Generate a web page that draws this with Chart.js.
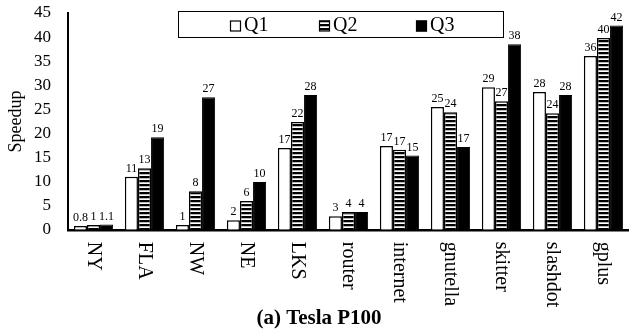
<!DOCTYPE html>
<html>
<head>
<meta charset="utf-8">
<script src="https://cdn.jsdelivr.net/npm/chart.js@4"></script>
<style>
  html, body { margin: 0; padding: 0; background: #fff; }
  #wrap { width: 629px; height: 333px; }
</style>
</head>
<body>
<div id="wrap"><canvas id="myChart"></canvas></div>
<script>
const categories = ['NY', 'FLA', 'NW', 'NE', 'LKS', 'router', 'internet', 'gnutella', 'skitter', 'slashdot', 'gplus'];
const q1Values = [0.8, 11, 1, 2, 17, 2.8, 17.4, 25.5, 29.6, 28.6, 36.1];
const q2Values = [1, 12.8, 8, 6, 22.4, 3.7, 16.6, 24.4, 26.7, 24.2, 39.8];
const q3Values = [1.1, 19.2, 27.5, 9.9, 28, 3.7, 15.4, 17.2, 38.5, 28, 42.4];
// подписи над столбиками (как на рисунке)
const q1Labels = ['0.8', '11', '1', '2', '17', '3', '17', '25', '29', '28', '36'];
const q2Labels = ['1', '13', '8', '6', '22', '4', '17', '24', '27', '24', '40'];
const q3Labels = ['1.1', '19', '27', '10', '28', '4', '15', '17', '38', '28', '42'];
const yTicks = [0, 5, 10, 15, 20, 25, 30, 35, 40, 45];

const FONT = 'Liberation Serif';

// штриховка для Q2
function stripePattern() {
	const c = document.createElement('canvas');
	c.width = 4; c.height = 4;
	const g = c.getContext('2d');
	g.fillStyle = '#fff';
	g.fillRect(0, 0, 4, 4);
	g.fillStyle = '#000';
	g.fillRect(0, 0, 4, 2);
	g.fillStyle = '#bbb';
	g.fillRect(0, 2, 4, 1);
	return g.createPattern(c, 'repeat');
}

const barLabels = [q1Labels, q2Labels, q3Labels];

// подписи значений над столбиками
const valueLabels = {
	id: 'valueLabels',
	afterDatasetsDraw(chart) {
		const ctx = chart.ctx;
		ctx.save();
		ctx.font = '12px "' + FONT + '"';
		ctx.fillStyle = '#000';
		ctx.textAlign = 'center';
		ctx.textBaseline = 'bottom';
		chart.data.datasets.forEach((ds, di) => {
			chart.getDatasetMeta(di).data.forEach((bar, i) => {
				ctx.fillText(barLabels[di][i], bar.x, bar.y - 2);
			});
		});
		ctx.restore();
	}
};

// подписи категорий, повернутые по часовой стрелке
const rotatedTicks = {
	id: 'rotatedTicks',
	afterDraw(chart) {
		const ctx = chart.ctx;
		const xs = chart.scales.x;
		ctx.save();
		ctx.font = '20px "' + FONT + '"';
		ctx.fillStyle = '#000';
		ctx.textAlign = 'left';
		ctx.textBaseline = 'middle';
		chart.data.labels.forEach((lab, i) => {
			ctx.save();
			ctx.translate(xs.getPixelForValue(i), chart.chartArea.bottom + 12);
			ctx.rotate(Math.PI / 2);
			ctx.fillText(lab, 0, 0);
			ctx.restore();
		});
		ctx.restore();
	}
};

// легенда в рамке
const boxLegend = {
	id: 'boxLegend',
	afterDraw(chart) {
		const ctx = chart.ctx;
		ctx.save();
		ctx.strokeStyle = '#000';
		ctx.lineWidth = 1;
		ctx.fillStyle = '#fff';
		ctx.fillRect(178.5, 11.5, 325, 26);
		ctx.strokeRect(178.5, 11.5, 325, 26);
		const xs = [230, 319, 416];
		ctx.font = '20px "' + FONT + '"';
		ctx.textBaseline = 'middle';
		ctx.textAlign = 'left';
		chart.data.datasets.forEach((ds, i) => {
			ctx.fillStyle = ds.backgroundColor;
			ctx.fillRect(xs[i], 20.5, 11, 11);
			ctx.lineWidth = 1.2;
			ctx.strokeStyle = '#000';
			ctx.strokeRect(xs[i] + 0.5, 21, 10, 10);
			ctx.fillStyle = '#000';
			ctx.fillText(ds.label, xs[i] + 14, 26);
		});
		ctx.restore();
	}
};

const data = {
	labels: categories,
	datasets: [
		{
			label: 'Q1',
			data: q1Values,
			backgroundColor: '#fff',
			borderColor: '#000',
			borderWidth: 1.5
		},
		{
			label: 'Q2',
			data: q2Values,
			backgroundColor: stripePattern(),
			borderColor: '#000',
			borderWidth: 1.5
		},
		{
			label: 'Q3',
			data: q3Values,
			backgroundColor: '#000',
			borderColor: '#000',
			borderWidth: 1
		}
	]
};

const config = {
	type: 'bar',
	data: data,
	options: {
		responsive: true,
		maintainAspectRatio: false,
		animation: false,
		categoryPercentage: 0.77,
		barPercentage: 1,
		layout: { padding: { top: 13, left: 9, right: 0, bottom: 0 } },
		plugins: {
			legend: { display: false },
			tooltip: { enabled: false },
			title: {
				display: true,
				position: 'bottom',
				text: '(a) Tesla P100',
				color: '#000',
				font: { family: FONT, size: 21, weight: 'bold' },
				padding: { top: 3, bottom: 2 }
			}
		},
		scales: {
			x: {
				grid: { display: false },
				border: { display: true, color: '#000', width: 2.5 },
				ticks: { display: false },
				afterFit(scale) { scale.height = 73; }
			},
			y: {
				min: 0,
				max: 45,
				afterBuildTicks(scale) { scale.ticks = yTicks.map(v => ({ value: v })); },
				grid: { display: false, drawTicks: false },
				border: { display: true, color: '#000', width: 2 },
				ticks: {
					color: '#000',
					padding: 17,
					autoSkip: false,
					font: { family: FONT, size: 17 }
				},
				title: {
					display: true,
					text: 'Speedup',
					color: '#000',
					padding: 0,
					font: { family: FONT, size: 18, lineHeight: 0.8 }
				},
				afterFit(scale) {
					scale.width = 59;
					scale.paddingTop = 0;
					scale.paddingBottom = 0;
				}
			}
		}
	},
	plugins: [valueLabels, rotatedTicks, boxLegend]
};

const myChart = new Chart(document.getElementById('myChart'), config);
</script>
</body>
</html>
